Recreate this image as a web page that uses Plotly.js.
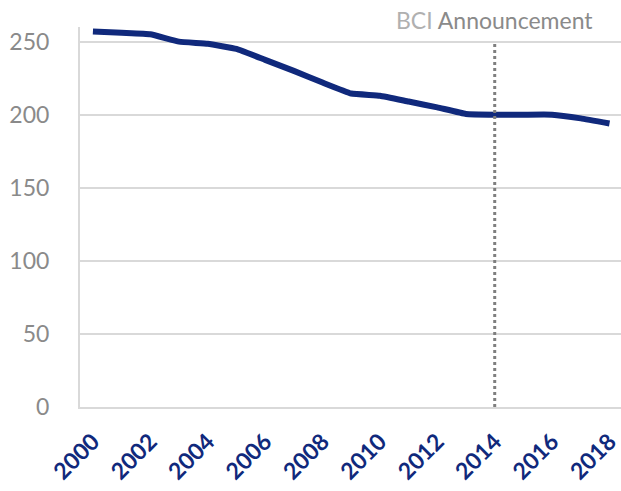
<!DOCTYPE html>
<html><head><meta charset="utf-8">
<script src="https://cdn.plot.ly/plotly-3.0.1.min.js"></script>
<style>html,body{margin:0;padding:0;background:#fff}#c{width:621px;height:491px}</style>
</head><body><div id="c"></div>
<script>
const years = [2000,2001,2002,2003,2004,2005,2006,2007,2008,2009,2010,2011,2012,2013,2014,2015,2016,2017,2018];
const values = [257,256,255,250,248.5,245,237.5,230,222,214.5,213,209,205,200.5,200,200,200,197.5,194];
const tickYears = [2000,2002,2004,2006,2008,2010,2012,2014,2016,2018];
const eventYear = 2014;

const trace = {x: years, y: values, type: 'scatter', mode: 'lines',
  line: {color: '#10297c', width: 6, shape: 'spline', smoothing: 0.3}, hoverinfo: 'skip'};

const layout = {
  width: 621, height: 491,
  margin: {l: 80, r: 0, t: 27, b: 84},
  paper_bgcolor: '#fff', plot_bgcolor: '#fff',
  showlegend: false,
  font: {family: 'Lato, "Open Sans", sans-serif'},
  xaxis: {range: [1999.55, 2018.4], tickvals: tickYears, ticktext: tickYears.map(String),
    tickangle: -45, showgrid: false, zeroline: false,
    showline: true, linecolor: '#d9d9d9', linewidth: 2,
    ticks: '', ticklabeloverflow: 'allow', ticklabelstandoff: 10,
    tickfont: {size: 23, color: '#10297c', weight: 'bold'}},
  yaxis: {range: [0, 260], tickvals: [0,50,100,150,200,250], showgrid: true,
    gridcolor: '#d9d9d9', gridwidth: 2, zeroline: false,
    showline: true, linecolor: '#d9d9d9', linewidth: 2, ticks: '', ticklen: 0,
    tickfont: {size: 23, color: '#8a8a8a'}, ticklabelstandoff: 24},
  shapes: [{type: 'line', xref: 'x', yref: 'y', x0: eventYear, x1: eventYear, y0: 0, y1: 250,
    line: {color: '#7f7f7f', width: 3, dash: 'dot'}}],
  annotations: [{xref: 'x', yref: 'paper', x: eventYear, y: 1.0, yanchor: 'bottom',
    xanchor: 'center', text: '<span style="color:#b0b0b0">BCI</span> Announcement', showarrow: false,
    font: {size: 23, color: '#8a8a8a'}, yshift: -9}]
};
Plotly.newPlot('c', [trace], layout, {displayModeBar: false, staticPlot: true});
</script></body></html>
